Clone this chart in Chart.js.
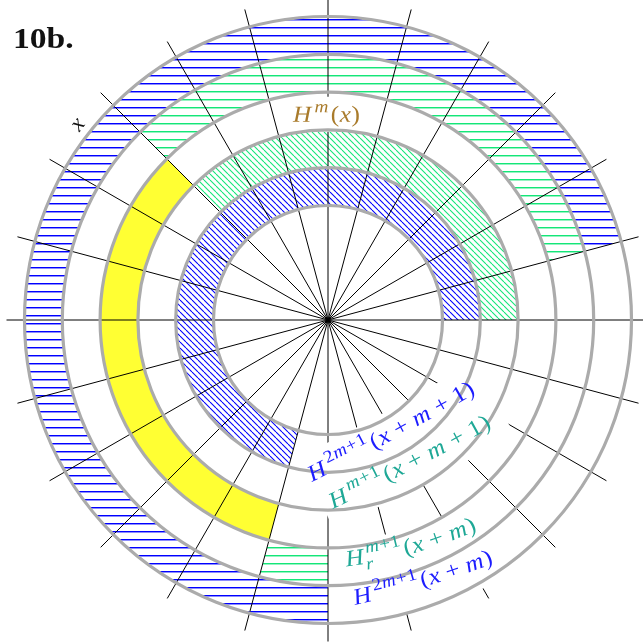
<!DOCTYPE html>
<html>
<head>
<meta charset="utf-8">
<script src="https://cdn.jsdelivr.net/npm/chart.js@4.4.1/dist/chart.umd.min.js"></script>
<style>
  html, body { margin: 0; padding: 0; background: #ffffff; }
  canvas { display: block; }
</style>
</head>
<body>
<canvas id="wheel" width="643" height="642"></canvas>
<script>
// ---- data -------------------------------------------------------------
// Each ring is split into arcs measured in degrees, clockwise from 3 o'clock.
const innerRingSpans  = [105, 255];
const innerRingFills  = ['none', 'blueDiag'];
const secondRingSpans = [225, 135];
const secondRingFills = ['none', 'greenDiag'];
const middleRingSpans = [105, 120, 135];
const middleRingFills = ['none', 'yellow', 'none'];
const fourthRingSpans = [90, 15, 120, 120, 15];
const fourthRingFills = ['none', 'greenLines', 'none', 'greenLines', 'none'];
const outerRingSpans  = [90, 255, 15];
const outerRingFills  = ['none', 'blueLines', 'none'];

// Radial spokes, degrees counter-clockwise from the positive x direction.
const spokeAngles = [0, 15, 30, 45, 60, 75, 90, 105, 120, 135, 150, 165,
                     180, 195, 210, 225, 240, 255, 270, 285, 300, 315, 330, 345];

// Ring captions, innermost ring first.
const ringLabels = ['H^{2m+1}(x+m+1)', 'H^{m+1}(x+m+1)', 'H^m(x)', 'H_r^{m+1}(x+m)', 'H^{2m+1}(x+m)'];
const panelTitle = '10b.';
const variableLabel = 'x';

// ---- layout & style ---------------------------------------------------
const OUTER_R = 303.5;
const INNER_R = 114.5;
const SPOKE_OVERHANG = 18;
const labelColors = ['#1c1cff', '#1ea896', '#a97b2b', '#1ea896', '#1c1cff'];
const labelPlacement = [
  {start: [-16, 162],    end: [148, 73],     radius: 3000, above: 28, below: 16, padStart: 3, padEnd: 5},
  {start: [5, 189],      end: [164, 107],    radius: 3000, above: 28, below: 18, padStart: 8, padEnd: 16},
  {start: [-35, -198.3], end: [32, -198.3],  radius: 5000, above: 25, below: 10, padStart: 3, padEnd: 3},
  {start: [18.5, 246.5], end: [149.5, 210],  radius: 450,  above: 25, below: 13, padStart: 3, padEnd: 4},
  {start: [27, 285],     end: [166, 243],    radius: 1000, above: 28, below: 20, padStart: 3, padEnd: 4}
];
const LABEL_SIZE = 23;
const MATH_FONT = '"Liberation Serif", "Times New Roman", serif';

const canvas = document.getElementById('wheel');
const ctx0 = canvas.getContext('2d');

function hatch(kind, color) {
  const tile = document.createElement('canvas');
  const g = tile.getContext('2d');
  if (kind === 'lines') {
    tile.width = 8; tile.height = 8;
    g.fillStyle = color;
    g.fillRect(0, 3, 8, 1);
    g.globalAlpha = 0.45;
    g.fillRect(0, 4, 8, 1);
  } else {
    tile.width = 6; tile.height = 6;
    g.strokeStyle = color;
    g.lineWidth = 1.1;
    for (const x0 of [-6, 0, 6]) {
      g.beginPath(); g.moveTo(x0, 0); g.lineTo(x0 + 6, 6); g.stroke();
    }
  }
  return ctx0.createPattern(tile, 'repeat');
}

const fillStyles = {
  none: '#ffffff',
  yellow: '#ffff33',
  blueDiag: hatch('diag', 'rgb(0,0,255)'),
  greenDiag: hatch('diag', 'rgb(20,230,120)'),
  blueLines: hatch('lines', 'rgb(0,0,255)'),
  greenLines: hatch('lines', 'rgb(20,230,120)')
};
const fills = names => names.map(n => fillStyles[n]);

// ---- tiny TeX-like layout --------------------------------------------
function parseMath(src) {
  const items = [];
  let i = 0;
  const readGroup = () => {
    if (src[i] === '{') { const j = src.indexOf('}', i); const g = src.slice(i + 1, j); i = j + 1; return g; }
    return src[i++];
  };
  while (i < src.length) {
    const c = src[i];
    if (c === '^' || c === '_') {
      let last = items[items.length - 1];
      if (!last || last.kind !== 'scripts') { last = {kind: 'scripts', sup: '', sub: ''}; items.push(last); }
      i++;
      const g = readGroup();
      if (c === '^') last.sup = g; else last.sub = g;
    } else { items.push({kind: 'char', ch: c}); i++; }
  }
  return items;
}

function layoutMath(ctx, src, size) {
  const glyphs = [];
  let x = 0;
  const fontFor = (ch, px) => (/[A-Za-z]/.test(ch) ? 'italic ' : '') + px.toFixed(2) + 'px ' + MATH_FONT;
  const put = (ch, px, rise, x0) => {
    const font = fontFor(ch, px);
    ctx.font = font;
    const w = ctx.measureText(ch).width;
    glyphs.push({ch, font, x: x0, w, rise});
    return w;
  };
  for (const it of parseMath(src)) {
    if (it.kind === 'char') {
      if (it.ch === '+') { x += 0.22 * size; x += put('+', size, 0, x); x += 0.22 * size; }
      else x += put(it.ch, size, 0, x);
    } else {
      const s = size * 0.76;
      let xs = x + 0.08 * size, xb = x;
      for (const ch of it.sup) xs += put(ch, s, (it.sub ? 0.46 : 0.42) * size, xs);
      for (const ch of it.sub) xb += put(ch, s, -0.26 * size, xb);
      x = Math.max(xs, xb) + 0.06 * size;
    }
  }
  return {glyphs, width: x};
}

// Circular baseline through two points, bending away from the text's "up" side.
function arcPath(S, E, R) {
  const dx = E.x - S.x, dy = E.y - S.y, L = Math.hypot(dx, dy);
  const nx = dy / L, ny = -dx / L;
  const h = Math.sqrt(Math.max(R * R - L * L / 4, 0));
  const c = {x: (S.x + E.x) / 2 + nx * h, y: (S.y + E.y) / 2 + ny * h};
  const a0 = Math.atan2(S.y - c.y, S.x - c.x);
  const a1 = Math.atan2(E.y - c.y, E.x - c.x);
  let span = a0 - a1;
  while (span < 0) span += 2 * Math.PI;
  const at = s => {
    const a = a0 - s / R;
    return {x: c.x + R * Math.cos(a), y: c.y + R * Math.sin(a),
            tx: Math.sin(a), ty: -Math.cos(a), nx: -Math.cos(a), ny: -Math.sin(a)};
  };
  return {at, length: R * span};
}

function labelBand(ctx, path, p) {
  const N = 48, s0 = -p.padStart, s1 = path.length + p.padEnd;
  ctx.beginPath();
  for (let k = 0; k <= N; k++) {
    const q = path.at(s0 + (s1 - s0) * k / N);
    ctx.lineTo(q.x + q.nx * p.above, q.y + q.ny * p.above);
  }
  for (let k = N; k >= 0; k--) {
    const q = path.at(s0 + (s1 - s0) * k / N);
    ctx.lineTo(q.x - q.nx * p.below, q.y - q.ny * p.below);
  }
  ctx.closePath();
  ctx.fillStyle = '#ffffff';
  ctx.fill();
}

function labelText(ctx, path, src, color, size) {
  const lay = layoutMath(ctx, src, size);
  const sx = 1.1;
  const last = lay.glyphs[lay.glyphs.length - 1];
  const spread = (path.length - last.w * sx) / last.x;
  ctx.fillStyle = color;
  ctx.textAlign = 'center';
  ctx.textBaseline = 'alphabetic';
  for (const g of lay.glyphs) {
    const q = path.at(g.x * spread + g.w * sx / 2);
    ctx.save();
    ctx.translate(q.x + q.nx * g.rise, q.y + q.ny * g.rise);
    ctx.rotate(Math.atan2(q.ty, q.tx));
    ctx.scale(sx, 1);
    ctx.font = g.font;
    ctx.fillText(g.ch, 0, 0);
    ctx.restore();
  }
}

// ---- overlay: spokes, ring outlines and captions ----------------------
const wheelOverlay = {
  id: 'wheelOverlay',
  afterDatasetsDraw(chart) {
    const ctx = chart.ctx;
    const n = chart.data.datasets.length;
    const first = chart.getDatasetMeta(0).data[0];
    const cx = first.x, cy = first.y;
    const radii = [];
    for (let i = 0; i < n; i++) radii.push(chart.getDatasetMeta(i).data[0].outerRadius);
    radii.push(chart.getDatasetMeta(n - 1).data[0].innerRadius);
    const spokeLen = radii[0] + SPOKE_OVERHANG;

    ctx.save();
    // spokes
    ctx.strokeStyle = '#000000';
    ctx.lineWidth = 1;
    for (const a of spokeAngles) {
      const t = a * Math.PI / 180;
      ctx.beginPath();
      ctx.moveTo(cx, cy);
      ctx.lineTo(cx + spokeLen * Math.cos(t), cy - spokeLen * Math.sin(t));
      ctx.stroke();
    }
    // caption backgrounds
    const paths = labelPlacement.map(p => arcPath(
      {x: cx + p.start[0], y: cy + p.start[1]},
      {x: cx + p.end[0], y: cy + p.end[1]}, p.radius));
    paths.forEach((path, i) => labelBand(ctx, path, labelPlacement[i]));
    // ring outlines
    ctx.strokeStyle = '#ababab';
    ctx.lineWidth = 3.2;
    for (const r of radii) {
      ctx.beginPath();
      ctx.arc(cx, cy, r, 0, 2 * Math.PI);
      ctx.stroke();
    }
    // captions
    paths.forEach((path, i) => labelText(ctx, path, ringLabels[i], labelColors[i], LABEL_SIZE));

    // variable name just outside the outer ring
    const va = 142 * Math.PI / 180, vr = radii[0] + 14;
    ctx.save();
    ctx.translate(cx + vr * Math.cos(va), cy - vr * Math.sin(va));
    ctx.rotate(-(142 - 90) * Math.PI / 180);
    ctx.font = 'italic 23px ' + MATH_FONT;
    ctx.fillStyle = '#111111';
    ctx.textAlign = 'center';
    ctx.textBaseline = 'middle';
    ctx.fillText(variableLabel, 0, 0);
    ctx.restore();

    // panel title
    ctx.save();
    ctx.translate(13, 48);
    ctx.scale(1.12, 1);
    ctx.font = 'bold 30px ' + MATH_FONT;
    ctx.fillStyle = '#111111';
    ctx.textAlign = 'left';
    ctx.textBaseline = 'alphabetic';
    ctx.fillText(panelTitle, 0, 0);
    ctx.restore();
    ctx.restore();
  }
};

new Chart(canvas, {
  type: 'doughnut',
  data: {
    datasets: [
      {data: outerRingSpans,  backgroundColor: fills(outerRingFills)},
      {data: fourthRingSpans, backgroundColor: fills(fourthRingFills)},
      {data: middleRingSpans, backgroundColor: fills(middleRingFills)},
      {data: secondRingSpans, backgroundColor: fills(secondRingFills)},
      {data: innerRingSpans,  backgroundColor: fills(innerRingFills)}
    ]
  },
  options: {
    responsive: false,
    devicePixelRatio: 1,
    animation: false,
    events: [],
    rotation: 90,
    circumference: 360,
    radius: OUTER_R,
    cutout: (INNER_R / OUTER_R * 100) + '%',
    borderWidth: 0,
    hoverOffset: 0,
    offset: 0,
    layout: {padding: {left: 25, right: 12, top: 17, bottom: 19}},
    plugins: {legend: {display: false}, tooltip: {enabled: false}, title: {display: false}}
  },
  plugins: [wheelOverlay]
});
</script>
</body>
</html>
